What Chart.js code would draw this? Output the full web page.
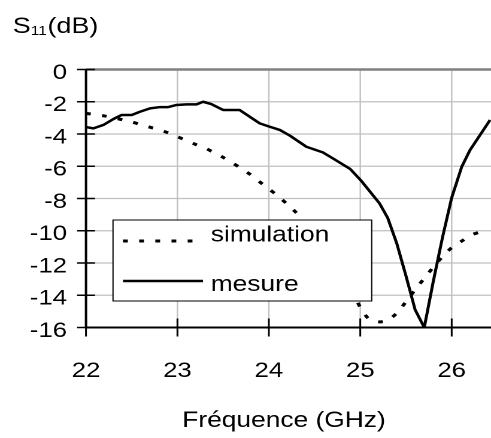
<!DOCTYPE html>
<html><head><meta charset="utf-8">
<script src="https://cdn.jsdelivr.net/npm/chart.js@4"></script>
<style>
html,body{margin:0;padding:0;background:#fff;overflow:hidden;}
#wrap{position:absolute;left:0;top:0;width:410px;height:438px;transform:scaleX(1.197561);transform-origin:0 0;}
</style></head><body>
<div id="wrap"><canvas id="c" width="410" height="438"></canvas></div>
<script>
const xTickValues = [22, 23, 24, 25, 26];
const yTickValues = [0, -2, -4, -6, -8, -10, -12, -14, -16];
const seriesNames = ['simulation', 'mesure'];
const yTitle = ['S', '11', '(dB)'];
const xTitle = 'Fréquence (GHz)';

const freqSim = [22.0,22.1,22.2,22.3,22.4,22.5,22.6,22.7,22.8,22.9,23.0,23.1,23.2,23.3,23.4,23.5,23.6,23.7,23.8,23.9,24.0,24.1,24.2,24.3,24.4,24.5,24.6,24.7,24.8,24.9,25.0,25.1,25.2,25.3,25.4,25.5,25.6,25.7,25.8,25.9,26.0,26.1,26.2,26.3,26.4];
const s11Sim = [-2.72,-2.80,-2.88,-2.99,-3.12,-3.25,-3.42,-3.58,-3.73,-3.93,-4.17,-4.40,-4.65,-4.87,-5.15,-5.45,-5.78,-6.15,-6.52,-6.97,-7.40,-7.85,-8.35,-8.88,-9.45,-10.10,-10.85,-11.70,-12.60,-13.60,-14.75,-15.50,-15.65,-15.55,-15.10,-14.40,-13.65,-12.95,-12.25,-11.60,-11.05,-10.68,-10.30,-10.10,-9.97];

const freqMes = [22.00,22.08,22.19,22.30,22.39,22.50,22.59,22.70,22.81,22.90,22.99,23.10,23.21,23.28,23.37,23.46,23.50,23.68,23.90,24.01,24.12,24.23,24.41,24.59,24.70,24.89,25.01,25.21,25.30,25.40,25.50,25.60,25.70,25.80,25.90,26.00,26.11,26.20,26.42];
const s11Mes = [-3.57,-3.65,-3.44,-3.07,-2.82,-2.82,-2.62,-2.41,-2.33,-2.33,-2.20,-2.16,-2.16,-2.00,-2.14,-2.40,-2.51,-2.51,-3.34,-3.55,-3.75,-4.10,-4.79,-5.14,-5.51,-6.17,-6.90,-8.30,-9.20,-10.80,-12.80,-14.90,-16.00,-13.10,-10.40,-7.95,-6.03,-5.00,-3.13];

const SX = 491 / 410;
const FONT = '"Liberation Sans", Arial, sans-serif';
const PLOT_LEFT = 86 / SX;
const PLOT_TOP = 69.5;
const PLOT_BOTTOM = 327.5;
const H = 438;
const SIM_DASH = [4, 9.5];
const GRID = '#c0c0c0';

function pts(xs, ys) { return xs.map((x, i) => ({x: x, y: ys[i]})); }

const axesPlugin = {
  id: 'axesDecor',
  beforeDatasetsDraw(chart) {
    const ctx = chart.ctx, xs = chart.scales.x, ys = chart.scales.y;
    const a = chart.chartArea;
    ctx.save();
    ctx.lineWidth = 1.2;
    ctx.strokeStyle = GRID;
    ctx.beginPath();
    xTickValues.forEach(v => {
      const px = xs.getPixelForValue(v);
      ctx.moveTo(px, a.top); ctx.lineTo(px, a.bottom);
    });
    yTickValues.forEach(v => {
      if (v === 0) return;
      const py = ys.getPixelForValue(v);
      ctx.moveTo(a.left, py); ctx.lineTo(a.right, py);
    });
    ctx.stroke();
    ctx.strokeStyle = '#808080';
    ctx.lineWidth = 2.5;
    ctx.beginPath();
    ctx.moveTo(a.left, ys.getPixelForValue(0)); ctx.lineTo(a.right, ys.getPixelForValue(0));
    ctx.stroke();
    ctx.strokeStyle = '#000';
    ctx.lineWidth = 2;
    ctx.beginPath();
    ctx.moveTo(a.left, a.top); ctx.lineTo(a.left, a.bottom + 1);
    ctx.moveTo(a.left - 1, a.bottom); ctx.lineTo(a.right, a.bottom);
    ctx.stroke();
    ctx.lineWidth = 1.5;
    ctx.beginPath();
    xTickValues.forEach(v => {
      const px = xs.getPixelForValue(v);
      ctx.moveTo(px, a.bottom - 9); ctx.lineTo(px, a.bottom + 9);
    });
    yTickValues.forEach(v => {
      const py = ys.getPixelForValue(v);
      ctx.moveTo(a.left - 7.5, py); ctx.lineTo(a.left + 7.5, py);
    });
    ctx.stroke();
    ctx.fillStyle = '#000';
    ctx.font = '21.5px ' + FONT;
    ctx.textBaseline = 'alphabetic';
    ctx.textAlign = 'right';
    yTickValues.forEach(v => {
      ctx.fillText(String(v), 56, ys.getPixelForValue(v) + 9.25);
    });
    ctx.textAlign = 'center';
    xTickValues.forEach(v => {
      ctx.fillText(String(v), xs.getPixelForValue(v), 377);
    });
    ctx.restore();
  },
  afterDatasetsDraw(chart) {
    const ctx = chart.ctx;
    const ds = chart.data.datasets;
    ctx.save();
    const bx = 113 / SX, bx2 = 371.7 / SX, by = 220, by2 = 301;
    ctx.fillStyle = '#fff';
    ctx.fillRect(bx, by, bx2 - bx, by2 - by);
    ctx.strokeStyle = '#000';
    ctx.lineWidth = 1;
    ctx.strokeRect(bx, by, bx2 - bx, by2 - by);
    const lx1 = 123 / SX, lx2 = 203 / SX, tx = 210.7 / SX;
    ctx.lineWidth = ds[0].borderWidth;
    ctx.setLineDash(ds[0].borderDash);
    ctx.beginPath(); ctx.moveTo(lx1, 241); ctx.lineTo(lx2, 241); ctx.stroke();
    ctx.setLineDash([]);
    ctx.lineWidth = ds[1].borderWidth;
    ctx.beginPath(); ctx.moveTo(lx1, 281); ctx.lineTo(lx2, 281); ctx.stroke();
    ctx.fillStyle = '#000';
    ctx.font = '22px ' + FONT;
    ctx.textBaseline = 'alphabetic';
    ctx.textAlign = 'left';
    ctx.fillText(ds[0].label, tx, 241.5);
    ctx.fillText(ds[1].label, tx, 291);
    let x = 12.7 / SX;
    ctx.font = '22.5px ' + FONT;
    ctx.fillText(yTitle[0], x, 33);
    x += ctx.measureText(yTitle[0]).width;
    ctx.font = '13px ' + FONT;
    ctx.fillText(yTitle[1], x, 35);
    x += ctx.measureText(yTitle[1]).width + 0.5;
    ctx.font = '22.5px ' + FONT;
    ctx.fillText(yTitle[2], x, 33);
    ctx.font = '22px ' + FONT;
    ctx.textAlign = 'center';
    ctx.fillText(xTitle, 284 / SX, 427);
    ctx.restore();
  }
};

new Chart(document.getElementById('c'), {
  type: 'line',
  data: {
    datasets: [
      { label: seriesNames[0], data: pts(freqSim, s11Sim), borderColor: '#000', borderWidth: 3,
        borderDash: SIM_DASH, borderCapStyle: 'butt', pointRadius: 0, tension: 0.3, fill: false },
      { label: seriesNames[1], data: pts(freqMes, s11Mes), borderColor: '#000', borderWidth: 2.5,
        pointRadius: 0, tension: 0, fill: false, borderJoinStyle: 'round' }
    ]
  },
  options: {
    responsive: false,
    animation: false,
    devicePixelRatio: 2,
    layout: { padding: { top: PLOT_TOP, left: PLOT_LEFT, right: 0, bottom: H - PLOT_BOTTOM } },
    plugins: { legend: { display: false }, tooltip: { enabled: false } },
    scales: {
      x: { type: 'linear', min: 22, max: 26.43, display: false },
      y: { type: 'linear', min: -16, max: 0, display: false }
    }
  },
  plugins: [axesPlugin]
});
</script>
</body></html>
